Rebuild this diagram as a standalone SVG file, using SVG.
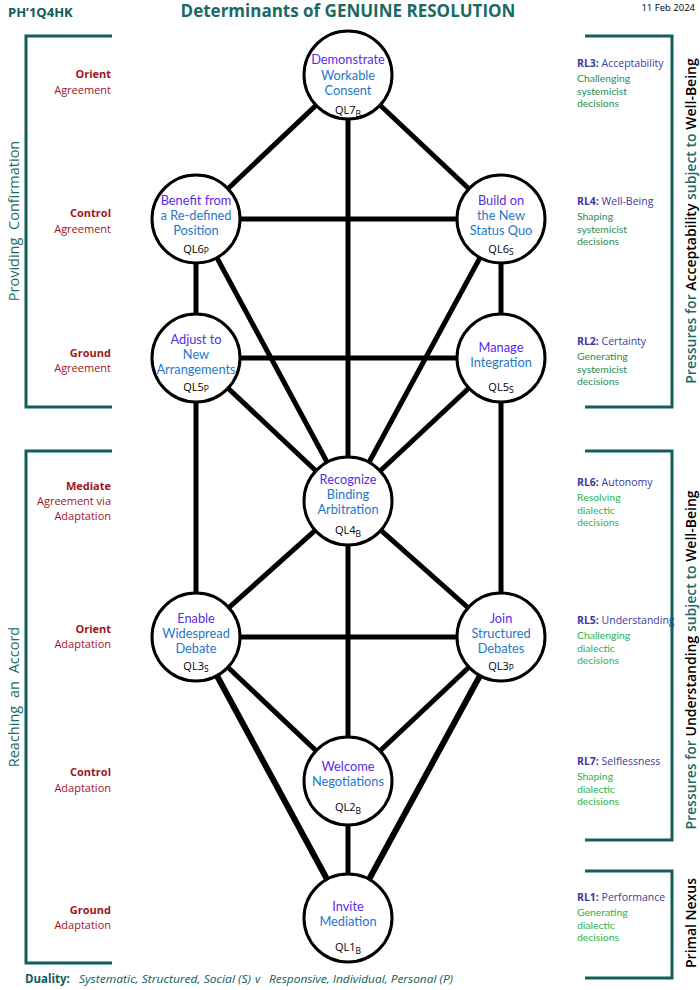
<svg xmlns="http://www.w3.org/2000/svg" width="700" height="990" viewBox="0 0 700 990">
<style>
text{font-family:"Open Sans","Noto Sans",sans-serif}
.edge{stroke:#000;stroke-width:5;fill:none}
.thick{stroke-width:6}
.node{fill:#fff;stroke:#000;stroke-width:3}
.t1{fill:#5a2be6;font-size:12.8px;text-anchor:middle;font-family:Lato,"Open Sans",sans-serif}
.t2{fill:#1f78c8;font-size:12.8px;text-anchor:middle;font-family:Lato,"Open Sans",sans-serif}
.ql{fill:#000;font-size:11px;text-anchor:middle}
.ql tspan{font-size:8.5px}
.br{stroke:#135e5a;stroke-width:3;fill:none}
.lb{fill:#a0141e;font-size:11px;font-weight:bold;text-anchor:end}
.ln{fill:#a0141e;font-size:11px;text-anchor:end}
.rl{fill:#3a3aa0;font-size:10.5px}
.rl .b{font-weight:bold}
.g1{fill:#2e8b4f;font-size:10.4px;font-family:Lato,"Open Sans",sans-serif}
.g2{fill:#2db34a;font-size:10.4px;font-family:Lato,"Open Sans",sans-serif}
.side{fill:#1c6b66;font-size:14.5px;text-anchor:middle;word-spacing:4px}
.rside{fill:#1c6b66;font-size:14px;text-anchor:middle;font-weight:600}
.rside .k{fill:#000}
</style>
<text x="8" y="17" font-size="13" font-weight="bold" fill="#0e5c5a">PH’1Q4HK</text>
<text x="348" y="17" font-size="17" font-weight="bold" fill="#1a6a64" text-anchor="middle">Determinants of GENUINE RESOLUTION</text>
<text x="695" y="11" font-size="9.5" fill="#000" text-anchor="end">11 Feb 2024</text>

<g id="brackets">
<path class="br" d="M112,36 H26 V407 H112"/>
<path class="br" d="M112,451 H26 V963 H112"/>
<path class="br" d="M585,36 H672 V407 H585"/>
<path class="br" d="M585,451 H672 V840 H585"/>
<path class="br" d="M585,871 H672 V978 H585"/>
</g>

<text class="side" transform="translate(19,221) rotate(-90)">Providing Confirmation</text>
<text class="side" transform="translate(19,697) rotate(-90)">Reaching an Accord</text>

<g id="left-labels">
<text class="lb" x="111" y="78">Orient</text><text class="ln" x="111" y="94">Agreement</text>
<text class="lb" x="111" y="217">Control</text><text class="ln" x="111" y="233">Agreement</text>
<text class="lb" x="111" y="357">Ground</text><text class="ln" x="111" y="372">Agreement</text>
<text class="lb" x="111" y="490">Mediate</text><text class="ln" x="111" y="505">Agreement via</text><text class="ln" x="111" y="520">Adaptation</text>
<text class="lb" x="111" y="633">Orient</text><text class="ln" x="111" y="648">Adaptation</text>
<text class="lb" x="111" y="776">Control</text><text class="ln" x="111" y="792">Adaptation</text>
<text class="lb" x="111" y="914">Ground</text><text class="ln" x="111" y="929">Adaptation</text>
</g>

<g id="right-labels">
<text class="rl" x="577" y="67"><tspan class="b">RL3:</tspan> Acceptability</text>
<text class="g1" x="577" y="82">Challenging</text><text class="g1" x="577" y="94.5">systemicist</text><text class="g1" x="577" y="107">decisions</text>
<text class="rl" x="577" y="205"><tspan class="b">RL4:</tspan> Well-Being</text>
<text class="g1" x="577" y="220">Shaping</text><text class="g1" x="577" y="232.5">systemicist</text><text class="g1" x="577" y="245">decisions</text>
<text class="rl" x="577" y="345"><tspan class="b">RL2:</tspan> Certainty</text>
<text class="g1" x="577" y="360">Generating</text><text class="g1" x="577" y="372.5">systemicist</text><text class="g1" x="577" y="385">decisions</text>
<text class="rl" x="577" y="486"><tspan class="b">RL6:</tspan> Autonomy</text>
<text class="g2" x="577" y="501">Resolving</text><text class="g2" x="577" y="513.5">dialectic</text><text class="g2" x="577" y="526">decisions</text>
<text class="rl" x="577" y="624"><tspan class="b">RL5:</tspan> Understanding</text>
<text class="g2" x="577" y="639">Challenging</text><text class="g2" x="577" y="651.5">dialectic</text><text class="g2" x="577" y="664">decisions</text>
<text class="rl" x="577" y="765"><tspan class="b">RL7:</tspan> Selflessness</text>
<text class="g2" x="577" y="780">Shaping</text><text class="g2" x="577" y="792.5">dialectic</text><text class="g2" x="577" y="805">decisions</text>
<text class="rl" x="577" y="901"><tspan class="b">RL1:</tspan> Performance</text>
<text class="g2" x="577" y="916">Generating</text><text class="g2" x="577" y="928.5">dialectic</text><text class="g2" x="577" y="941">decisions</text>
</g>

<text class="rside" transform="translate(696,221) rotate(-90)">Pressures for <tspan class="k">Acceptability</tspan> subject to <tspan class="k">Well-Being</tspan></text>
<text class="rside" transform="translate(696,660) rotate(-90)">Pressures for <tspan class="k">Understanding</tspan> subject to <tspan class="k">Well-Being</tspan></text>
<text class="rside" transform="translate(696,923) rotate(-90)" font-size="15"><tspan class="k">Primal Nexus</tspan></text>

<g id="connectors">
<line class="edge" x1="348" y1="75" x2="196" y2="219"/>
<line class="edge" x1="348" y1="75" x2="501" y2="219"/>
<line class="edge" x1="348" y1="75" x2="348" y2="501"/>
<line class="edge" x1="196" y1="219" x2="501" y2="219"/>
<line class="edge" x1="196" y1="219" x2="196" y2="358"/>
<line class="edge" x1="501" y1="219" x2="501" y2="358"/>
<line class="edge" x1="196" y1="219" x2="348" y2="501"/>
<line class="edge" x1="501" y1="219" x2="348" y2="501"/>
<line class="edge" x1="196" y1="358" x2="501" y2="358"/>
<line class="edge" x1="196" y1="358" x2="348" y2="501"/>
<line class="edge" x1="501" y1="358" x2="348" y2="501"/>
<line class="edge" x1="196" y1="358" x2="196" y2="637"/>
<line class="edge" x1="501" y1="358" x2="501" y2="637"/>
<line class="edge" x1="348" y1="501" x2="196" y2="637"/>
<line class="edge" x1="348" y1="501" x2="501" y2="637"/>
<line class="edge" x1="196" y1="637" x2="501" y2="637"/>
<line class="edge" x1="348" y1="501" x2="348" y2="781"/>
<line class="edge" x1="196" y1="637" x2="348" y2="781"/>
<line class="edge" x1="501" y1="637" x2="348" y2="781"/>
<line class="edge thick" x1="196" y1="637" x2="348" y2="918"/>
<line class="edge thick" x1="501" y1="637" x2="348" y2="918"/>
<line class="edge" x1="348" y1="781" x2="348" y2="918"/>
</g>

<g id="QL7">
<circle class="node" cx="348" cy="75" r="44"/>
<text class="t1" x="348" y="64">Demonstrate</text>
<text class="t2" x="348" y="79.5">Workable</text>
<text class="t2" x="348" y="95">Consent</text>
<text class="ql" x="348" y="114">QL7<tspan dy="3">B</tspan></text>
</g>
<g id="QL6P">
<circle class="node" cx="196" cy="219" r="44"/>
<text class="t1" x="196" y="205">Benefit from</text>
<text class="t2" x="196" y="220">a Re-defined</text>
<text class="t2" x="196" y="235">Position</text>
<text class="ql" x="196" y="253">QL6<tspan dy="1">P</tspan></text>
</g>
<g id="QL6S">
<circle class="node" cx="501" cy="219" r="44"/>
<text class="t1" x="501" y="205">Build on</text>
<text class="t2" x="501" y="220">the New</text>
<text class="t2" x="501" y="235">Status Quo</text>
<text class="ql" x="501" y="253">QL6<tspan dy="2">S</tspan></text>
</g>
<g id="QL5P">
<circle class="node" cx="196" cy="358" r="44"/>
<text class="t1" x="196" y="344">Adjust to</text>
<text class="t2" x="196" y="359">New</text>
<text class="t2" x="196" y="374">Arrangements</text>
<text class="ql" x="196" y="391">QL5<tspan dy="1">P</tspan></text>
</g>
<g id="QL5S">
<circle class="node" cx="501" cy="358" r="44"/>
<text class="t1" x="501" y="352">Manage</text>
<text class="t2" x="501" y="367">Integration</text>
<text class="ql" x="501" y="391">QL5<tspan dy="2">S</tspan></text>
</g>
<g id="QL4B">
<circle class="node" cx="348" cy="501" r="44"/>
<text class="t1" x="348" y="484">Recognize</text>
<text class="t2" x="348" y="499">Binding</text>
<text class="t2" x="348" y="514">Arbitration</text>
<text class="ql" x="348" y="534">QL4<tspan dy="3">B</tspan></text>
</g>
<g id="QL3S">
<circle class="node" cx="196" cy="637" r="44"/>
<text class="t1" x="196" y="623">Enable</text>
<text class="t2" x="196" y="638">Widespread</text>
<text class="t2" x="196" y="653">Debate</text>
<text class="ql" x="196" y="670">QL3<tspan dy="2">S</tspan></text>
</g>
<g id="QL3P">
<circle class="node" cx="501" cy="637" r="44"/>
<text class="t1" x="501" y="623">Join</text>
<text class="t2" x="501" y="638">Structured</text>
<text class="t2" x="501" y="653">Debates</text>
<text class="ql" x="501" y="670">QL3<tspan dy="1">P</tspan></text>
</g>
<g id="QL2B">
<circle class="node" cx="348" cy="781" r="44"/>
<text class="t1" x="348" y="771">Welcome</text>
<text class="t2" x="348" y="786">Negotiations</text>
<text class="ql" x="348" y="811">QL2<tspan dy="3">B</tspan></text>
</g>
<g id="QL1B">
<circle class="node" cx="348" cy="918" r="44"/>
<text class="t1" x="348" y="911">Invite</text>
<text class="t2" x="348" y="926">Mediation</text>
<text class="ql" x="348" y="951">QL1<tspan dy="3">B</tspan></text>
</g>

<g id="duality" fill="#0e5c5a" font-size="11.5">
<text x="25" y="983" font-weight="bold">Duality:</text>
<text x="79" y="983" font-style="italic" textLength="172" lengthAdjust="spacingAndGlyphs">Systematic, Structured, Social (S)</text>
<text x="255" y="983" font-style="italic">v</text>
<text x="269" y="983" font-style="italic" textLength="184" lengthAdjust="spacingAndGlyphs">Responsive, Individual, Personal (P)</text>
</g>
</svg>
